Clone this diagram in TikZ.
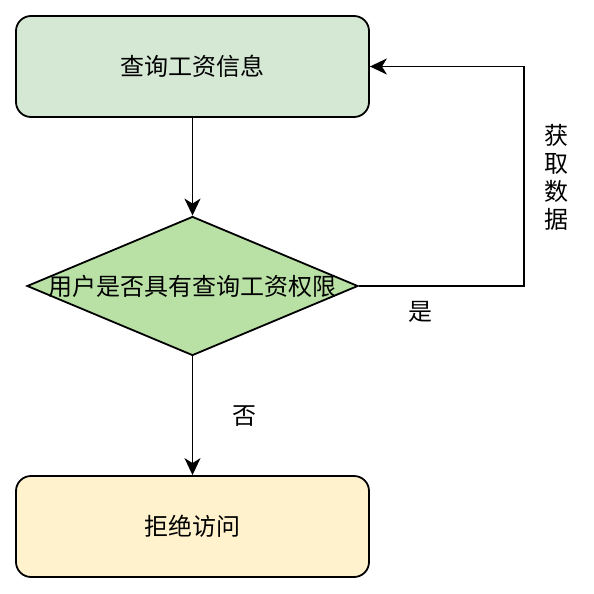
\documentclass[tikz,border=0pt]{standalone}
\usepackage{fontspec}
\setmainfont{Noto Sans CJK SC}
\usetikzlibrary{arrows.meta}
\usetikzlibrary{shapes.geometric}
\definecolor{queryfill}{HTML}{D5E8D4}
\definecolor{checkfill}{HTML}{B9E0A5}
\definecolor{denyfill}{HTML}{FFF2CC}

\begin{document}
\begin{tikzpicture}[x=0.5pt, y=-0.5pt, >={Stealth[length=8.5pt,width=8pt,inset=2.5pt]}, line width=0.9pt,
  every node/.style={inner sep=0pt, font=\fontsize{12pt}{14pt}\selectfont},
  stepbox/.style={draw, rounded corners=7.5pt, minimum width=176.5pt, minimum height=50.5pt}]
	\useasboundingbox (0,0) rectangle (594,594);
	%Query
	\node [stepbox, fill=queryfill] (query) at (192.5,66.5) {查询工资信息};
	%Check
	\node [draw, diamond, fill=checkfill, minimum width=165.5pt, minimum height=69.5pt] (check) at (192.5,286) {};
	\node (checktext) at (check.center) {用户是否具有查询工资权限};
	%Deny
	\node [stepbox, fill=denyfill] (deny) at (192.5,526.5) {拒绝访问};
	\draw[->] (query) -- (check);
	\draw[->] (check) -- node [right=19.5pt] (no) {否} (deny);
	%Loop back
	\coordinate (loopa) at (524,286);
	\coordinate (loopb) at (524,66.5);
	\draw[->] (check.east) -- (loopa) -- (loopb) -- (query.east);
	\node (yes) at (420,312) {是};
	\node [align=center] (fetch) at (556,177) {获\\取\\数\\据};
\end{tikzpicture}
\end{document}
